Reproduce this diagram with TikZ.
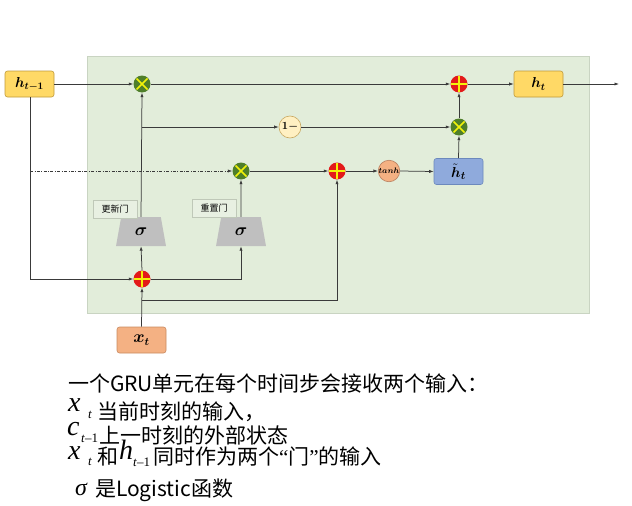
\documentclass[tikz,border=0pt]{standalone}
\usepackage{fontspec}
\usepackage{amsmath}
\usepackage{bm}
\usetikzlibrary{arrows.meta,calc,shapes.geometric}
\newfontfamily\cjk{Noto Sans CJK SC}
\newfontfamily\tms{Liberation Serif}
\definecolor{bggreen}{HTML}{E2EDDA}
\definecolor{bgborder}{HTML}{C9D4C2}
\definecolor{hyellow}{HTML}{FFD966}
\definecolor{hyborder}{HTML}{C09A3A}
\definecolor{xorange}{HTML}{F4B183}
\definecolor{xoborder}{HTML}{C98A60}
\definecolor{hblue}{HTML}{8FAADC}
\definecolor{hbborder}{HTML}{6C89BD}
\definecolor{multg}{HTML}{4F7F2A}
\definecolor{plusr}{HTML}{E31A1A}
\definecolor{crossy}{HTML}{F2F20A}
\definecolor{onefill}{HTML}{FFF0C2}
\definecolor{oneborder}{HTML}{C8A860}
\definecolor{tanhborder}{HTML}{B98060}
\definecolor{sgray}{HTML}{BFBFBF}
\definecolor{linec}{HTML}{3A3A3A}
\definecolor{lblfill}{HTML}{E8F0E2}
\definecolor{lblborder}{HTML}{BFC8B8}
\begin{document}
\begin{tikzpicture}[x=1pt,y=-1pt,
  conn/.style={draw=linec, line width=0.75pt},
  arr/.style={conn, -{Latex[length=4.5pt,width=3.2pt]}},
  rbox/.style={rounded corners=2.5pt, minimum width=49pt, minimum height=26pt, inner sep=0pt, line width=0.6pt, font=\fontsize{14}{16}\selectfont},
  mult/.style={circle, fill=multg, minimum size=17pt, inner sep=0pt,
    path picture={\draw[crossy, line width=1.6pt]
      ([xshift=-5.5pt,yshift=-5.5pt]path picture bounding box.center) -- ([xshift=5.5pt,yshift=5.5pt]path picture bounding box.center)
      ([xshift=-5.5pt,yshift=5.5pt]path picture bounding box.center) -- ([xshift=5.5pt,yshift=-5.5pt]path picture bounding box.center);}},
  plusn/.style={circle, fill=plusr, minimum size=17pt, inner sep=0pt,
    path picture={\draw[crossy, line width=1.5pt]
      ([xshift=-8pt]path picture bounding box.center) -- ([xshift=8pt]path picture bounding box.center)
      ([yshift=-8pt]path picture bounding box.center) -- ([yshift=8pt]path picture bounding box.center);}},
  sig/.style={trapezium, trapezium angle=78, trapezium stretches=true, minimum width=50pt, minimum height=29pt, fill=sgray, inner sep=0pt, font=\fontsize{18}{20}\selectfont},
  lbl/.style={fill=lblfill, draw=lblborder, line width=0.5pt, inner sep=2pt, minimum width=44pt, minimum height=18pt, font=\cjk\fontsize{9}{10}\selectfont},
  txt/.style={anchor=base west, inner sep=0pt, outer sep=0pt},
  cjkt/.style={txt, font=\cjk\fontsize{21}{24}\selectfont},
  mathl/.style={txt, font=\tms\itshape\fontsize{28}{30}\selectfont},
  subl/.style={txt, font=\tms\itshape\fontsize{13}{14}\selectfont}
]
\useasboundingbox (0,0) rectangle (632,506);
% background
\node[fill=bggreen, draw=bgborder, line width=0.6pt, minimum width=502pt, minimum height=257pt, inner sep=0pt] (bg) at (338,184.5) {};

% main nodes
\node[rbox, fill=hyellow, draw=hyborder] (hprev) at (29.5,84) {$\bm{h_{t-1}}$};
\node[rbox, fill=hyellow, draw=hyborder] (ht) at (538.5,84) {$\bm{h_{t}}$};
\node[rbox, fill=hblue, draw=hbborder, font=\fontsize{15}{17}\selectfont] (htil) at (458.5,171.5) {$\bm{\tilde{h}_{t}}$};
\node[rbox, fill=xorange, draw=xoborder, font=\fontsize{16}{18}\selectfont] (xt) at (141.5,340) {$\bm{x_{t}}$};

\node[mult] (m1) at (142,84) {};
\node[plusn] (p1) at (459,84) {};
\node[mult] (m2) at (459,127) {};
\node[mult] (m3) at (241,171) {};
\node[plusn] (p3) at (337,171) {};
\node[plusn] (pb) at (142,279) {};
\node[circle, fill=onefill, draw=oneborder, line width=0.6pt, minimum size=22pt, inner sep=0pt, font=\fontsize{11}{12}\selectfont] (one) at (290,127) {$\bm{1-}$};
\node[circle, fill=xorange, draw=tanhborder, line width=0.6pt, minimum size=20pt, inner sep=0pt, font=\fontsize{8}{9}\selectfont] (tanh) at (389,171) {$\bm{tanh}$};

\node[sig] (s1) at (141,231.5) {$\bm{\sigma}$};
\node[sig] (s2) at (241,231.5) {$\bm{\sigma}$};
\node[lbl] (l1) at (115,209) {更新门};
\node[lbl] (l2) at (214,208.5) {重置门};

\coordinate (out) at (619,84);
\coordinate (hdown) at (30,279);
\coordinate (hdash) at (30,171);
\coordinate (zbr) at (142,127);
\coordinate (xbr) at (142,300);

% connectors
\draw[arr] (hprev.east) -- (m1.west);
\draw[arr] (m1.east) -- (p1.west);
\draw[arr] (p1.east) -- (ht.west);
\draw[arr] (ht.east) -- (out);
\draw[arr] (m2.north) -- (p1.south);
\draw[arr] (htil.north) -- (m2.south);
\draw[arr] (s1.north) -- (m1.south);
\draw[arr] (zbr) -- (one.west);
\draw[arr] (one.east) -- (m2.west);
\draw[arr, dash pattern=on 3pt off 1.5pt on 0.8pt off 1.5pt, line width=0.6pt] (hdash) -- (m3.west);
\draw[arr] (s2.north) -- (m3.south);
\draw[arr] (m3.east) -- (p3.west);
\draw[arr] (p3.east) -- (tanh.west);
\draw[arr] (tanh.east) -- (htil.west);
\draw[arr] (hprev.south -| hdown) -- (hdown) -- (pb.west);
\draw[arr] (pb.north) -- (s1.south);
\draw[arr] (pb.east) -| (s2.south);
\draw[arr] (xt.north) -- (pb.south);
\draw[arr] (xbr) -| (p3.south);

% explanatory text
\node[cjkt] (t1) at (68,391) {一个GRU单元在每个时间步会接收两个输入：};
\node[mathl] (t2x) at (68,411) {x};
\node[subl] (t2s) at (88,418) {t};
\node[cjkt] (t2) at (97,419) {当前时刻的输入，};
\node[mathl] (t3c) at (67,435) {c};
\node[subl] (t3s) at (81,442) {t\kern0.5pt\upshape{–}1};
\node[cjkt] (t3) at (99.5,443) {上一时刻的外部状态};
\node[mathl] (t4x) at (68,459) {x};
\node[subl] (t4s) at (88,465) {t};
\node[cjkt] (t4a) at (97,464) {和};
\node[mathl] (t4h) at (119,459) {h};
\node[subl] (t4hs) at (133,466) {t\kern0.5pt\upshape{–}1};
\node[cjkt] (t4) at (153,464) {同时作为两个{\tms “}门{\tms ”}的输入};
\node[txt, font=\tms\itshape\fontsize{24}{26}\selectfont] (t5s) at (75,495) {σ};
\node[cjkt] (t5) at (95,496) {是Logistic函数};
\end{tikzpicture}
\end{document}
